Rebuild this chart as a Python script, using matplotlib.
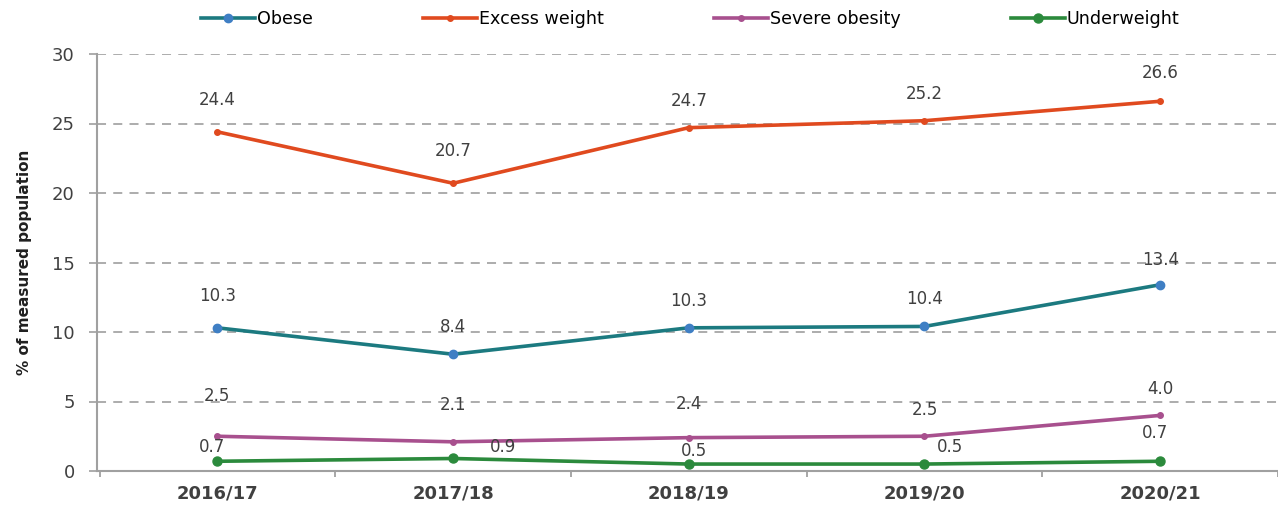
import matplotlib
matplotlib.use("Agg")
import matplotlib.pyplot as plt
import numpy as np

# data
years = ["2016/17", "2017/18", "2018/19", "2019/20", "2020/21"]
obese = [10.3, 8.4, 10.3, 10.4, 13.4]
excess = [24.4, 20.7, 24.7, 25.2, 26.6]
severe = [2.5, 2.1, 2.4, 2.5, 4.0]
under = [0.7, 0.9, 0.5, 0.5, 0.7]

plt.rcParams['font.family'] = ['DejaVu Sans']
txt = '#404040'

fig = plt.figure(figsize=(12.78, 5.09), dpi=100)
ax = fig.add_axes([97 / 1278, 1 - 471 / 509, 1181 / 1278, 417 / 509])

x = np.arange(len(years))
series = [
    ("Obese", obese, '#1c7a80', '#3f7fc4'),
    ("Excess weight", excess, '#e04a1f', '#e04a1f'),
    ("Severe obesity", severe, '#a8508e', '#a8508e'),
    ("Underweight", under, '#2b8a3c', '#2b8a3c'),
]
msize = [6, 4, 4, 6.5]
for (name, vals, lc, mc), ms in zip(series, msize):
    ax.plot(x, vals, color=lc, lw=2.6, marker='o', ms=ms,
            mfc=mc, mec=mc, label=name, zorder=3)

# label offsets in pixels (dx, dy)
offs = {
    "Obese": [(0, 30), (0, 25), (0, 25), (0, 25), (0, 23)],
    "Excess weight": [(0, 30), (0, 30), (0, 25), (0, 25), (0, 26)],
    "Severe obesity": [(0, 38), (0, 35), (0, 32), (0, 24), (0, 24)],
    "Underweight": [(-5, 12), (50, 9), (5, 11), (26, 15), (-5, 26)],
}
for name, vals, lc, mc in series:
    for i, v in enumerate(vals):
        dx, dy = offs[name][i]
        ax.annotate(f"{v:.1f}", (i, v), xytext=(dx, dy + 2),
                    textcoords='offset pixels', ha='center', va='center',
                    fontsize=12, color=txt, zorder=4)

ax.set_xlim(-0.511, 4.477)
ax.set_ylim(0, 30)
ax.set_yticks(range(0, 31, 5))
ax.set_xticks(x)
ax.set_xticklabels(years)
ax.set_xticks(np.arange(-0.5, 4.6, 1), minor=True)

ax.grid(axis='y', ls=(0, (5, 4)), color='#a6a6a6', lw=1.3)
ax.set_axisbelow(True)
for s in ['top', 'right']:
    ax.spines[s].set_visible(False)
for s in ['left', 'bottom']:
    ax.spines[s].set_color('#a0a0a0')
    ax.spines[s].set_linewidth(1.5)

ax.tick_params(axis='y', length=6, width=1.3, color='#a6a6a6',
               labelsize=13, labelcolor=txt, pad=10)
ax.tick_params(axis='x', which='major', length=0, labelsize=13,
               labelcolor=txt, pad=10)
ax.tick_params(axis='x', which='minor', length=4, width=1.3, color='#a0a0a0')
for lb in ax.get_xticklabels():
    lb.set_fontweight('bold')

ax.set_ylabel("% of measured population", fontsize=11, fontweight='bold',
              color='#202020', labelpad=14)

ax.legend(loc='upper left', bbox_to_anchor=(190 / 1278, 1.0), ncol=4,
          bbox_transform=fig.transFigure, frameon=False, fontsize=12.6,
          handlelength=3.1, handletextpad=0.1, columnspacing=6.3,
          borderaxespad=0.2)

fig.savefig("out.png", dpi=100)
